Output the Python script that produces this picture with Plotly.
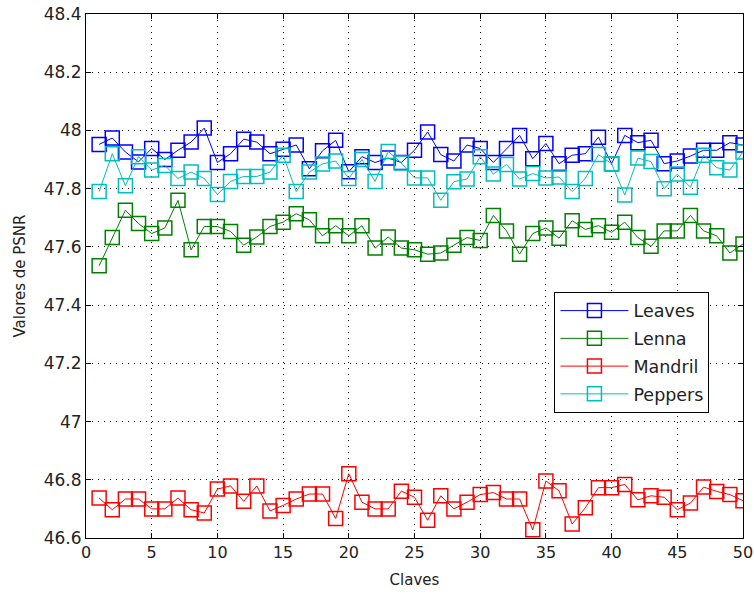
import plotly.graph_objects as go

claves = list(range(1, 51))

leaves = [47.952, 47.974, 47.926, 47.892, 47.938, 47.900, 47.932, 47.960, 48.008, 47.890,
          47.920, 47.970, 47.960, 47.920, 47.935, 47.950, 47.868, 47.930, 47.966, 47.858,
          47.910, 47.890, 47.905, 47.890, 47.932, 47.995, 47.917, 47.895, 47.950, 47.938,
          47.890, 47.938, 47.983, 47.903, 47.955, 47.886, 47.915, 47.920, 47.977, 47.886,
          47.983, 47.958, 47.966, 47.886, 47.895, 47.912, 47.932, 47.932, 47.958, 47.950]

lenna = [47.535, 47.632, 47.726, 47.680, 47.646, 47.665, 47.760, 47.590, 47.670, 47.670,
         47.653, 47.606, 47.634, 47.670, 47.685, 47.714, 47.693, 47.638, 47.673, 47.638,
         47.673, 47.596, 47.634, 47.596, 47.590, 47.575, 47.579, 47.606, 47.632, 47.622,
         47.708, 47.655, 47.575, 47.646, 47.665, 47.630, 47.690, 47.660, 47.673, 47.650,
         47.685, 47.632, 47.602, 47.655, 47.655, 47.708, 47.655, 47.638, 47.579, 47.610]

mandril = [46.737, 46.697, 46.734, 46.734, 46.700, 46.700, 46.737, 46.697, 46.686, 46.768,
           46.779, 46.726, 46.779, 46.693, 46.712, 46.734, 46.751, 46.751, 46.667, 46.821,
           46.723, 46.700, 46.700, 46.761, 46.740, 46.661, 46.745, 46.700, 46.723, 46.749,
           46.756, 46.734, 46.734, 46.628, 46.796, 46.762, 46.648, 46.704, 46.773, 46.773,
           46.784, 46.731, 46.745, 46.740, 46.697, 46.720, 46.775, 46.760, 46.749, 46.728]

peppers = [47.790, 47.920, 47.810, 47.910, 47.864, 47.880, 47.835, 47.857, 47.835, 47.780,
           47.825, 47.842, 47.842, 47.857, 47.915, 47.790, 47.857, 47.885, 47.895, 47.835,
           47.900, 47.825, 47.928, 47.888, 47.837, 47.837, 47.760, 47.824, 47.833, 47.910,
           47.850, 47.883, 47.833, 47.852, 47.837, 47.840, 47.790, 47.835, 47.917, 47.886,
           47.778, 47.905, 47.893, 47.800, 47.850, 47.805, 47.915, 47.872, 47.864, 47.926]

x_ticks = [0, 5, 10, 15, 20, 25, 30, 35, 40, 45, 50]
y_ticks = [46.6, 46.8, 47.0, 47.2, 47.4, 47.6, 47.8, 48.0, 48.2, 48.4]
y_tick_labels = ["46.6", "46.8", "47", "47.2", "47.4", "47.6", "47.8", "48", "48.2", "48.4"]

series = [("Leaves", leaves, "#0000FF"),
          ("Lenna", lenna, "#008000"),
          ("Mandril", mandril, "#FF0000"),
          ("Peppers", peppers, "#00BFBF")]

FONT = "DejaVu Sans, sans-serif"

fig = go.Figure()
for name, vals, col in series:
    fig.add_trace(go.Scatter(
        x=claves, y=vals, name=name, mode="lines+markers",
        line=dict(color=col, width=1),
        marker=dict(symbol="square-open", size=14, color=col, line=dict(width=1.5, color=col)),
        legendgroup=name,
    ))

axis_common = dict(
    showline=True, linecolor="black", linewidth=1, mirror="all",
    ticks="inside", ticklen=5, tickcolor="black",
    showgrid=True, gridcolor="black", gridwidth=1, griddash="1px,5px",
    zeroline=False, automargin=False, ticklabeloverflow="allow",
)

fig.update_layout(
    width=754, height=597,
    margin=dict(l=86, r=11, t=14, b=59),
    paper_bgcolor="white", plot_bgcolor="white",
    font=dict(family=FONT, size=15, color="#222"),
    xaxis=dict(range=[0, 50], tickmode="array", tickvals=x_ticks,
               tickfont=dict(family=FONT, size=16, color="#222"),
               title=dict(text="Claves", font=dict(size=15), standoff=13), **axis_common),
    yaxis=dict(range=[46.6, 48.4], tickmode="array", tickvals=y_ticks, ticktext=y_tick_labels,
               tickfont=dict(family=FONT, size=17, color="#222"),
               title=dict(text="Valores de PSNR", font=dict(size=15), standoff=14), **axis_common),
    legend=dict(x=0.713, y=0.470, xanchor="left", yanchor="top",
                bgcolor="white", bordercolor="black", borderwidth=1,
                font=dict(family=FONT, size=17.5, color="#222"),
                tracegroupgap=2, itemwidth=68),
    showlegend=True,
)

fig.write_html("out.html", config={"displayModeBar": False},
               post_script="document.body.style.margin='0';")
